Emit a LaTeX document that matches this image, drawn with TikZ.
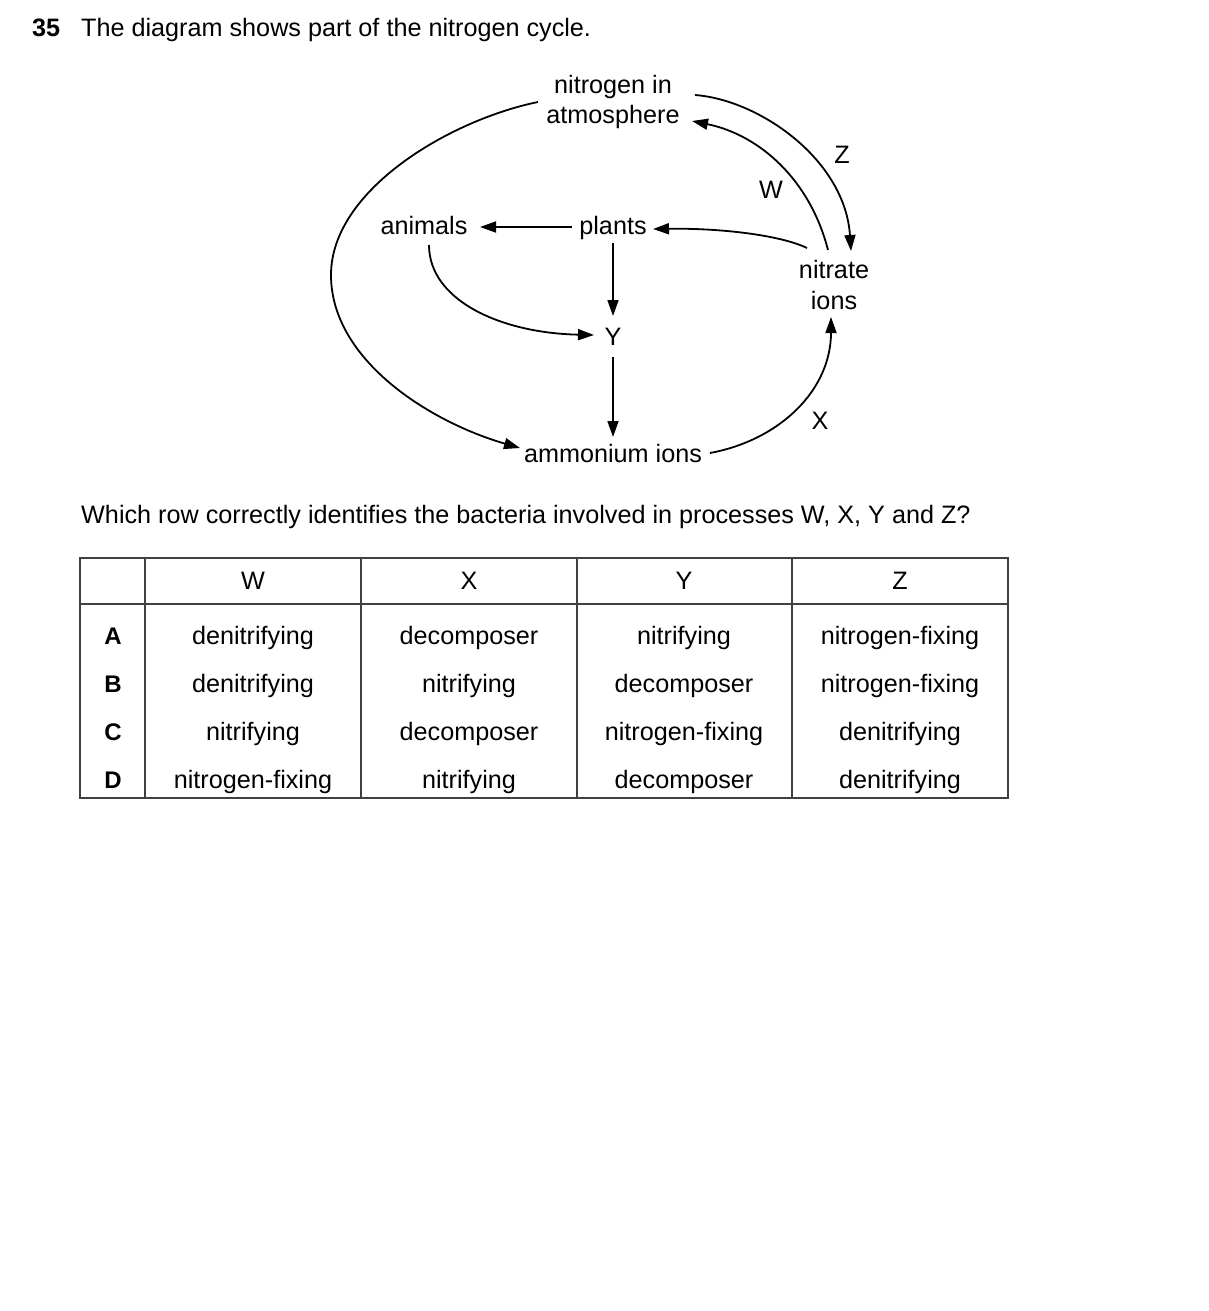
\documentclass[tikz,border=0pt]{standalone}
\usepackage{fontspec}
\setmainfont{Liberation Sans}
\usetikzlibrary{arrows.meta}
\begin{document}
\begin{tikzpicture}[x=1pt,y=-1pt,
  every node/.style={font=\fontsize{25.2}{30}\selectfont, inner sep=0pt, anchor=base},
  con/.style={line width=1.8pt, -{Triangle[length=16pt,width=11pt]}},
  ln/.style={line width=1.8pt},
  tbl/.style={line width=1.1pt, draw=black!75}]
\useasboundingbox (0,0) rectangle (1209,1311);
% title
\node[anchor=base west, font=\fontsize{25.2}{30}\selectfont\bfseries] (num) at (32,37) {35};
\node[anchor=base west] (title) at (81,37) {The diagram shows part of the nitrogen cycle.};
% diagram nodes
\node (atm1) at (613,94) {nitrogen in};
\node (atm) at (613,124) {atmosphere};
\node (animals) at (424,234) {animals};
\node (plants) at (613,234) {plants};
\node (nit1) at (834,278) {nitrate};
\node (nitrate) at (834,309) {ions};
\node (Y) at (613,345) {Y};
\node (amm) at (613,462) {ammonium ions};
\node (W) at (771,198) {W};
\node (Z) at (842,163) {Z};
\node (X) at (820,429) {X};
% connector end points
\coordinate (bigS) at (538,102);
\coordinate (bigL) at (331,275);
\coordinate (bigE) at (520,448);
\coordinate (zS) at (695,95);
\coordinate (zE) at (851,251);
\coordinate (wS) at (828,250);
\coordinate (wE) at (692,121);
\coordinate (npS) at (807,248);
\coordinate (npE) at (653,229);
\coordinate (paS) at (572,227);
\coordinate (paE) at (480,227);
\coordinate (pyS) at (613,243);
\coordinate (pyE) at (613,316);
\coordinate (ayS) at (429,245);
\coordinate (ayE) at (594,335);
\coordinate (yaS) at (613,357);
\coordinate (yaE) at (613,437);
\coordinate (anS) at (710,453);
\coordinate (anE) at (831,317);
% connectors
\draw[con] (bigS) .. controls (450,120) and (331,190) .. (bigL) .. controls (331,360) and (430,422) .. (bigE);
\draw[con] (zS) .. controls (760,100) and (845,160) .. (zE);
\draw[con] (wS) .. controls (810,180) and (760,135) .. (wE);
\draw[con] (npS) .. controls (780,235) and (720,228) .. (npE);
\draw[con] (paS) -- (paE);
\draw[con] (pyS) -- (pyE);
\draw[con] (ayS) .. controls (429,300) and (500,333) .. (ayE);
\draw[con] (yaS) -- (yaE);
\draw[con] (anS) .. controls (780,440) and (831,390) .. (anE);
% question
\node[anchor=base west] (q) at (81,523) {Which row correctly identifies the bacteria involved in processes W, X, Y and Z?};
% table
\draw[tbl] (80,558) rectangle (1008,798);
\draw[tbl] (80,604) -- (1008,604);
\foreach \x in {145,361,577,792} \draw[tbl] (\x,558) -- (\x,798);
\node (hW) at (253,589) {W};
\node (hX) at (469,589) {X};
\node (hY) at (684,589) {Y};
\node (hZ) at (900,589) {Z};
\foreach \r/\y/\a/\b/\c/\d in {A/644/denitrifying/decomposer/nitrifying/nitrogen-fixing,
  B/692/denitrifying/nitrifying/decomposer/nitrogen-fixing,
  C/740/nitrifying/decomposer/nitrogen-fixing/denitrifying,
  D/788/nitrogen-fixing/nitrifying/decomposer/denitrifying}{
  \node[font=\fontsize{24}{28}\selectfont\bfseries] (row\r) at (113,\y) {\r};
  \node (c\r1) at (253,\y) {\a};
  \node (c\r2) at (469,\y) {\b};
  \node (c\r3) at (684,\y) {\c};
  \node (c\r4) at (900,\y) {\d};
}
\end{tikzpicture}
\end{document}
